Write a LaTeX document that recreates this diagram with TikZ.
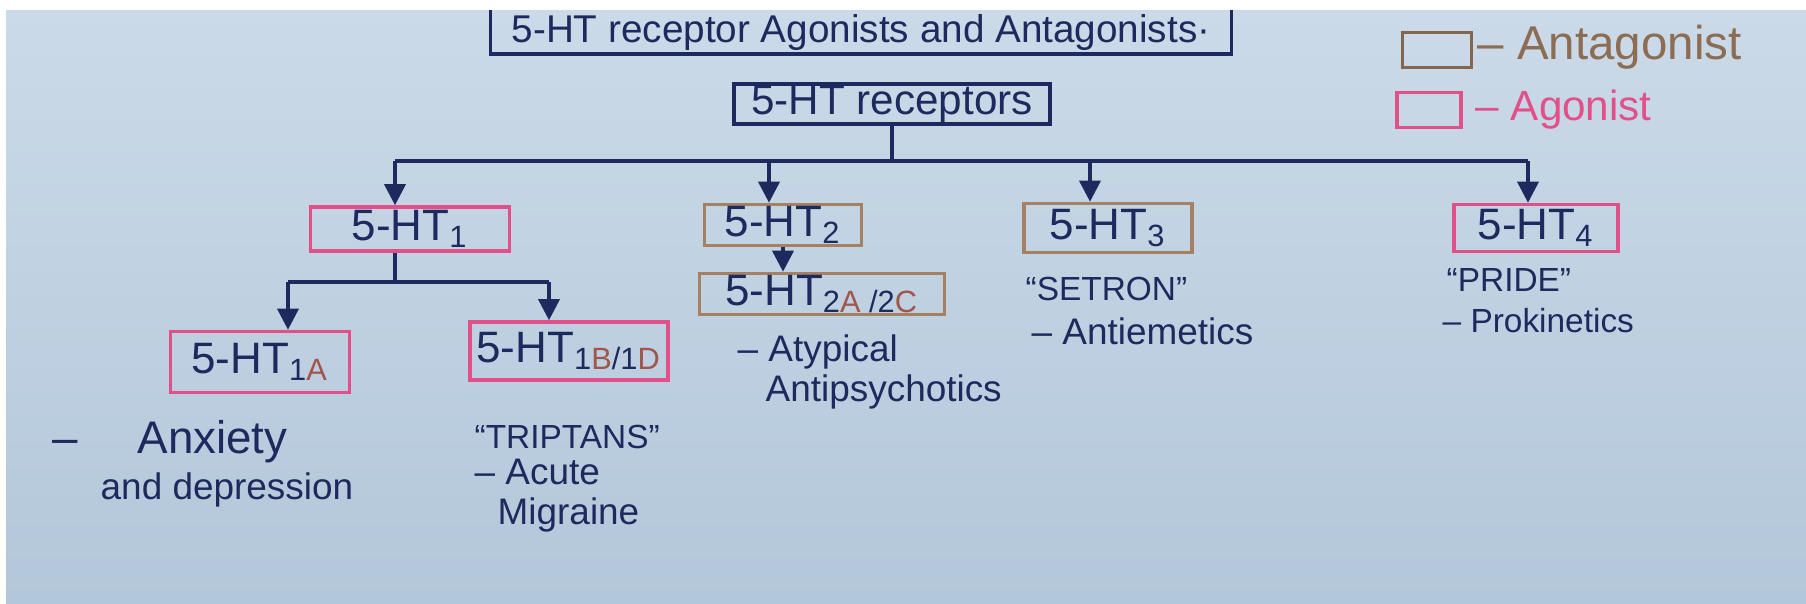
\documentclass[tikz,border=0pt]{standalone}
\usepackage{fontspec}
\setmainfont{Liberation Sans}
\usepackage{xcolor}
\usetikzlibrary{arrows.meta}
\definecolor{inkc}{HTML}{1E2A5E}
\definecolor{agc}{HTML}{E2508A}
\definecolor{antc}{HTML}{A58063}
\definecolor{subc}{HTML}{A0564A}
\definecolor{bgtop}{HTML}{CBDAE8}
\definecolor{bgbot}{HTML}{B3C7DA}

\begin{document}
\begin{tikzpicture}[x=0.01cm, y=-0.01cm,
  box/.style={line width=1pt, inner sep=0pt, text=inkc, font=\fontsize{12.5}{15}\selectfont},
  agbox/.style={box, draw=agc},
  antbox/.style={box, draw=antc},
  ln/.style={draw=inkc, line width=1pt},
  arr/.style={ln, -{Triangle[length=6pt,width=6pt]}},
  txt/.style={anchor=west, inner sep=0pt, text=inkc, font=\fontsize{10.5}{13}\selectfont},
  qtxt/.style={txt, font=\fontsize{9.5}{12}\selectfont}]
% paper
\fill[white] (0,0) rectangle (1806,603);
\shade[top color=bgtop, bottom color=bgbot] (6,10) rectangle (1806,603);
\useasboundingbox (0,0) rectangle (1806,603);

% title and root
\node[box, minimum width=7.37cm, minimum height=0.40cm, font=\fontsize{11}{14}\selectfont] (title) at (861,32) {5-HT receptor Agonists and Antagonists·};
\draw[ln] (title.north west) -- (title.south west) -- (title.south east) -- (title.north east);
\node[box, draw=inkc, minimum width=3.16cm, minimum height=0.40cm, font=\fontsize{12}{14}\selectfont] (recep) at (892,104) {5-HT receptors};

% legend
\node[box, draw=antc!80!black, minimum width=0.69cm, minimum height=0.35cm] (lant) at (1437,50) {};
\node[txt, text=antc!85!black, font=\fontsize{13.5}{15}\selectfont] (lanttxt) at (1477,47) {– Antagonist};
\node[agbox, minimum width=0.64cm, minimum height=0.35cm] (lag) at (1429,110) {};
\node[txt, text=agc, font=\fontsize{12}{15}\selectfont] (lagtxt) at (1475,110) {– Agonist};

% receptor classes
\node[agbox, minimum width=1.99cm, minimum height=0.44cm] (ht1) at (410,229) {5-HT\textsubscript{1}};
\node[antbox, minimum width=1.57cm, minimum height=0.41cm] (ht2) at (783,225) {5-HT\textsubscript{2}};
\node[antbox, minimum width=1.68cm, minimum height=0.49cm] (ht3) at (1108,228) {5-HT\textsubscript{3}};
\node[agbox, minimum width=1.64cm, minimum height=0.47cm] (ht4) at (1536,228) {5-HT\textsubscript{4}};

% subtypes
\node[agbox, minimum width=1.79cm, minimum height=0.61cm] (ht1a) at (260,362) {5-HT\textsubscript{1\textcolor{subc}{A}}};
\node[agbox, minimum width=1.98cm, minimum height=0.58cm] (ht1bd) at (569,351) {5-HT\textsubscript{1\textcolor{subc}{B}/1\textcolor{subc}{D}}};
\node[antbox, minimum width=2.45cm, minimum height=0.41cm] (ht2ac) at (822,294) {5-HT\textsubscript{2\textcolor{subc}{A} /2\textcolor{subc}{C}}};

% uses
\node[txt, font=\fontsize{13}{15}\selectfont] (anx) at (52,442) {–\hspace{1.3em}Anxiety};
\node[txt] (dep) at (100,490) {and depression};
\node[qtxt] (trip) at (474,437) {“TRIPTANS”};
\node[txt] (acute) at (474,472) {– Acute};
\node[txt] (migr) at (497,515) {Migraine};
\node[txt] (atyp) at (737,352) {– Atypical};
\node[txt] (antip) at (765,392) {Antipsychotics};
\node[qtxt] (setron) at (1025,289) {“SETRON”};
\node[txt] (antiem) at (1031,331) {– Antiemetics};
\node[qtxt] (pride) at (1446,280) {“PRIDE”};
\node[txt, font=\fontsize{9.5}{12}\selectfont] (prokin) at (1442,321) {– Prokinetics};

% branches from the root
\coordinate (b1) at (395,161);
\coordinate (b2) at (769,161);
\coordinate (b3) at (1090,161);
\coordinate (b4) at (1528,161);
\draw[ln] (recep.south) -- (recep.south |- b1);
\draw[ln] (b1) -- (b4);
\draw[arr] (b1) -- (b1 |- ht1.north);
\draw[arr] (b2) -- (b2 |- ht2.north);
\draw[arr] (b3) -- (b3 |- ht3.north);
\draw[arr] (b4) -- (b4 |- ht4.north);

% branches from 5-HT1
\coordinate (s1a) at (288,282);
\coordinate (s1b) at (549,282);
\draw[ln] (b1 |- ht1.south) -- (b1 |- s1a);
\draw[ln] (s1a) -- (s1b);
\draw[arr] (s1a) -- (s1a |- ht1a.north);
\draw[arr] (s1b) -- (s1b |- ht1bd.north);

% 5-HT2 to 2A/2C
\draw[arr] (ht2.south) -- (ht2.south |- ht2ac.north);
\end{tikzpicture}
\end{document}
